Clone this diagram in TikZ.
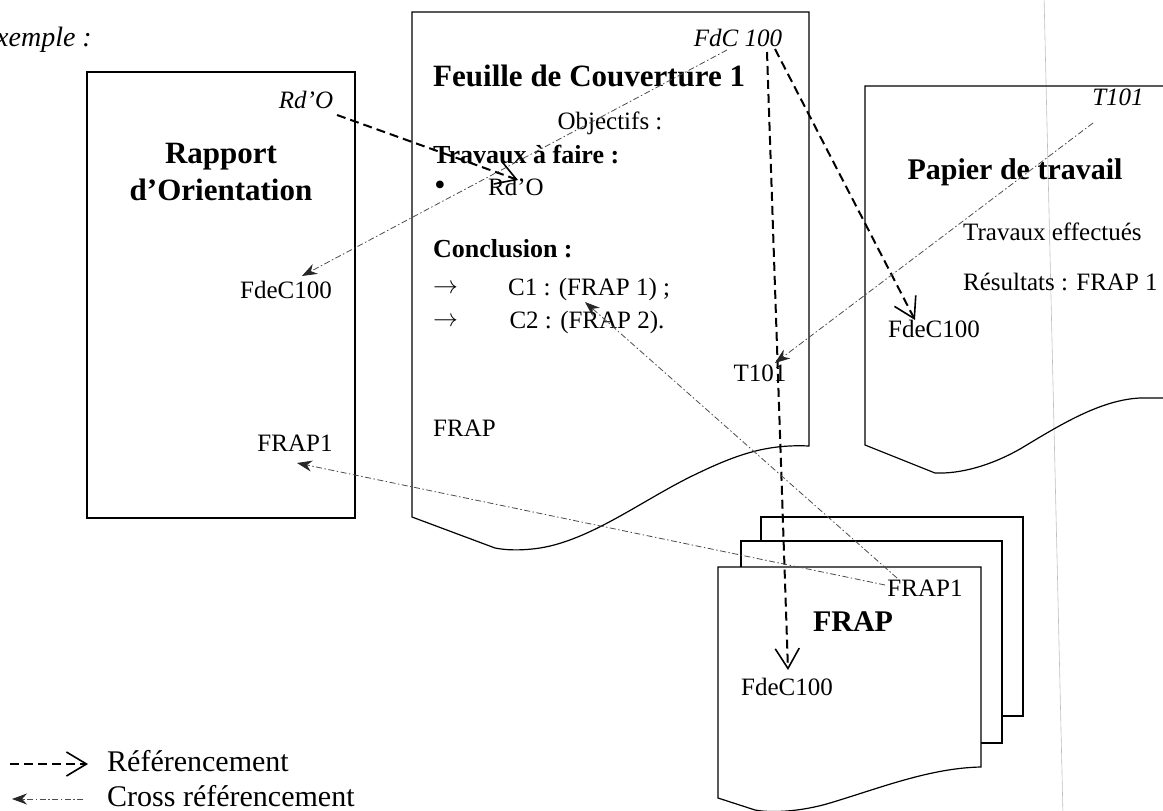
\documentclass[tikz,border=0pt]{standalone}
\usepackage{fontspec}
\setmainfont{Liberation Serif}
\usetikzlibrary{arrows.meta,calc}
\begin{document}
\begin{tikzpicture}[x=1pt,y=-1pt,
  every node/.style={inner sep=0pt, font=\fontsize{25}{30}\selectfont},
  shapeline/.style={line width=1.2pt, black},
  titlefont/.style={font=\fontsize{31}{37}\selectfont\bfseries, align=center},
  subfont/.style={font=\fontsize{26}{30}\selectfont\bfseries},
  itlabel/.style={font=\fontsize{25}{30}\selectfont\itshape},
  legendfont/.style={font=\fontsize{30}{36}\selectfont},
  refarrow/.style={line width=2pt, dash pattern=on 9pt off 5pt, -{Straight Barb[length=20pt,width=24pt,line width=1.6pt]}},
  crossarrow/.style={line width=0.8pt, black!70, dash pattern=on 6pt off 2.5pt on 1.5pt off 2.5pt, -{Stealth[length=15pt,width=11pt,color=black!85,fill=black!85]}},
]
\useasboundingbox (0,0) rectangle (1163,811);
\clip (0,0) rectangle (1163,811);

% scan line
\draw[gray!50, line width=0.6pt] (1044,-5) -- (1063,816);

% Rapport d'Orientation
\node[draw, shapeline, minimum width=268pt, minimum height=446pt] (rapport) at (221,295) {};
% Feuille de Couverture (document shape)
\draw[shapeline] (412,517) -- (412,12) -- (809,12) -- (809,446)
  .. controls (765,444) and (735,455) .. (690,477)
  .. controls (640,502) and (590,540) .. (540,548)
  .. controls (520,551) and (505,550) .. (495,548) -- cycle;
% Papier de travail
\draw[shapeline] (1183,86) -- (865,86) -- (865,445) -- (935,473)
  .. controls (960,474) and (990,466) .. (1020,449)
  .. controls (1060,425) and (1100,400) .. (1140,398) -- (1183,398);
% FRAP stack
\draw[shapeline] (761,541) -- (761,517) -- (1023,517) -- (1023,716) -- (1002,716);
\draw[shapeline] (741,567) -- (741,541) -- (1002,541) -- (1002,743) -- (981,743);
\draw[shapeline, fill=white] (718,798) -- (718,567) -- (981,567) -- (981,767)
  .. controls (930,768) and (880,788) .. (830,803)
  .. controls (800,812) and (770,813) .. (755,810) -- cycle;

% texts
\node[font=\fontsize{28}{32}\selectfont\itshape, anchor=east] (ex) at (92,40) {Exemple :};

\node[titlefont] (rapTitle) at (221,172) {Rapport\\d’Orientation};
\node[itlabel] (rdoSrc) at (306,100) {Rd’O};
\node (fdecR) at (286,290) {FdeC100};
\node (frapR) at (295,443) {FRAP1};

\node[titlefont, anchor=west] (fdcTitle) at (433,76) {Feuille de Couverture 1};
\node[itlabel] (fdcSrc) at (738,38) {FdC 100};
\node (obj) at (610,123) {Objectifs :};
\node[subfont, anchor=west] (trav) at (433,155) {Travaux à faire :};
\node[font=\fontsize{32}{32}\selectfont] (bullet) at (440,188) {•};
\node (rdoDst) at (516,187) {Rd’O};
\node[subfont, anchor=west] (concl) at (433,249) {Conclusion :};
\node[anchor=west] (arrA) at (433,289) {$\rightarrow$};
\node[anchor=west] (c1) at (508,289) {C1 : (FRAP 1) ;};
\node[anchor=west] (arrB) at (433,322) {$\rightarrow$};
\node (c2) at (587,322) {C2 : (FRAP 2).};
\node (t101F) at (760,373) {T101};
\node[anchor=west] (frapF) at (433,428) {FRAP};

\node[itlabel] (t101Src) at (1118,97) {T101};
\node[font=\fontsize{30}{36}\selectfont\bfseries] (papTitle) at (1015,172) {Papier de travail};
\node[anchor=west] (travEff) at (963,232) {Travaux effectués};
\node[anchor=west] (res) at (963,282) {Résultats : FRAP 1};
\node (fdecP) at (934,329) {FdeC100};

\node (frapS1) at (925,588) {FRAP1};
\node[font=\fontsize{30}{36}\selectfont\bfseries] (frapTitle) at (853,622) {FRAP};
\node (fdecS) at (787,687) {FdeC100};

% legend
\node[legendfont, anchor=west] (legRef) at (107,761) {Référencement};
\node[legendfont, anchor=west] (legCross) at (107,796) {Cross référencement};
\coordinate (legRefS) at (10,764);
\coordinate (legCrossS) at (12,799);

% Referencement arrows
\draw[refarrow] ($(rdoSrc.center)+(31,15)$) -- ($(rdoDst.center)+(2,-7)$);
\draw[refarrow] ($(fdcSrc.center)+(29,14)$) -- ($(fdecS.center)+(1,-17)$);
\draw[refarrow] ($(fdcSrc.center)+(37,11)$) -- ($(fdecP.center)+(-19,-9)$);
\draw[refarrow] (legRefS) -- ($(legRef.west)+(-19,3)$);

% Cross referencement arrows
\draw[crossarrow] ($(fdcSrc.center)+(-11,12)$) -- ($(fdecR.center)+(16,-14)$);
\draw[crossarrow] ($(t101Src.center)+(-25,26)$) -- ($(t101F.center)+(15,-10)$);
\draw[crossarrow] ($(frapS1.center)+(-40,-3)$) -- ($(frapR.center)+(2,20)$);
\draw[crossarrow] ($(frapS1.center)+(-28,-10)$) -- ($(c2.center)+(-2,-20)$);
\draw[crossarrow] ($(legCross.west)+(-24,3)$) -- (legCrossS);
\end{tikzpicture}
\end{document}
